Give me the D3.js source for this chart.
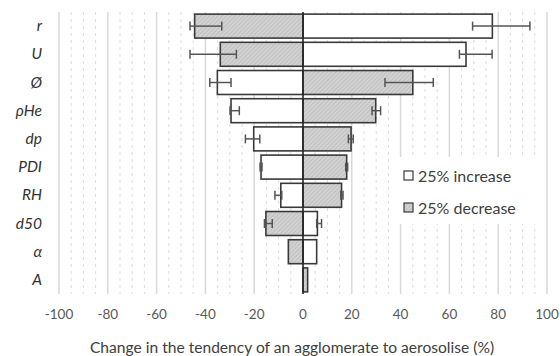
<!DOCTYPE html>
<html>
<head>
<meta charset="utf-8">
<script src="https://cdn.jsdelivr.net/npm/d3@7"></script>
<style>
  body { margin:0; background:#fff; }
  svg { display:block; }
</style>
</head>
<body>
<svg id="chart" width="560" height="356"></svg>
<script>
// chart data
// ----------
var categories = ["r","U","Ø","ρHe","dp","PDI","RH","d50","α","A"];
var increase   = [77.6, 66.8, -35.1, -29.5, -20.2, -17.2, -9.1, 5.9, 5.6, 0];
var increaseLo = [69.5, 64.1, -38.2, -29.9, -23.6, -17.6, -11.5, 5.6, null, null];
var increaseHi = [93.0, 77.5, -29.5, -26.1, -17.7, -16.8, -8.7, 7.6, null, null];
var decrease   = [-44.4, -33.9, 45.0, 29.8, 19.7, 17.9, 15.8, -15.2, -6.0, 1.9];
var decreaseLo = [-46.3, -46.3, 33.6, 28.3, 18.6, 17.5, 15.5, -15.8, null, null];
var decreaseHi = [-33.3, -27.3, 53.4, 31.8, 20.6, 18.3, 16.4, -12.6, null, null];
var xTicks = [-100,-80,-60,-40,-20,0,20,40,60,80,100];
var legendLabels = ["25% increase","25% decrease"];
var axisTitle = "Change in the tendency of an agglomerate to aerosolise (%)";

var szFont = "Lato, 'Open Sans', sans-serif";
var svg = d3.select("#chart");

var x = d3.scaleLinear().domain([-100,100]).range([59,547]);
var y = d3.scaleBand().domain(categories).range([12,294]).paddingInner(0.15).paddingOuter(0.075);

// hatch pattern for the decrease bars
// -----------------------------------
var defs = svg.append("defs");
var pat = defs.append("pattern")
  .attr("id","hatch").attr("patternUnits","userSpaceOnUse")
  .attr("width",3).attr("height",3).attr("patternTransform","rotate(45)");
pat.append("rect").attr("width",3).attr("height",3).attr("fill","#d2d2d2");
pat.append("line").attr("x1",0).attr("y1",0).attr("x2",0).attr("y2",3)
  .attr("stroke","#b0b0b0").attr("stroke-width",1.1);

// gridlines: minor dashed every 5, major solid every 20
// -----------------------------------------------------
var minor = d3.range(-100,101,5).filter(function(v){ return v%20!==0; });
svg.append("g").selectAll("line").data(minor).enter().append("line")
  .attr("x1",function(d){return x(d);}).attr("x2",function(d){return x(d);})
  .attr("y1",12).attr("y2",294)
  .attr("style","stroke:#dcdcdc;stroke-width:1;stroke-dasharray:3,4;");
svg.append("g").selectAll("line").data(xTicks.filter(function(v){return v!==0;})).enter().append("line")
  .attr("x1",function(d){return x(d);}).attr("x2",function(d){return x(d);})
  .attr("y1",12).attr("y2",294)
  .attr("style","stroke:#d9d9d9;stroke-width:1.5;");

// bars
// ----
function drawBars(values, fill){
  svg.append("g").selectAll("rect").data(values).enter()
    .filter(function(d){ return d!==0; })
    .append("rect")
    .attr("x",function(d){ return x(Math.min(0,d)); })
    .attr("y",function(d){ return y(categories[values.indexOf(d)]); })
    .attr("width",function(d){ return Math.abs(x(d)-x(0)); })
    .attr("height",y.bandwidth())
    .attr("style","fill:"+fill+";stroke:#3a3a3a;stroke-width:1.6;");
}
drawBars(increase,"#ffffff");
drawBars(decrease,"url(#hatch)");

// error bars
// ----------
function drawErrors(lo, hi){
  var g = svg.append("g").attr("style","stroke:#555;stroke-width:1.5;fill:none;");
  categories.forEach(function(c,i){
    if (lo[i]===null) return;
    var cy = y(c)+y.bandwidth()/2;
    g.append("line").attr("x1",x(lo[i])).attr("x2",x(hi[i])).attr("y1",cy).attr("y2",cy);
    g.append("line").attr("x1",x(lo[i])).attr("x2",x(lo[i])).attr("y1",cy-4.5).attr("y2",cy+4.5);
    g.append("line").attr("x1",x(hi[i])).attr("x2",x(hi[i])).attr("y1",cy-4.5).attr("y2",cy+4.5);
  });
}
drawErrors(increaseLo, increaseHi);
drawErrors(decreaseLo, decreaseHi);

// zero line
svg.append("line").attr("x1",x(0)).attr("x2",x(0)).attr("y1",12).attr("y2",294)
  .attr("style","stroke:#262626;stroke-width:1.6;");

// category labels
// ---------------
svg.append("g").selectAll("text").data(categories).enter().append("text")
  .attr("x",42).attr("y",function(d){ return y(d)+y.bandwidth()/2+5; })
  .attr("style","font-family:"+szFont+";font-size:15.5px;font-style:italic;text-anchor:end;fill:#333;")
  .text(function(d){ return d; });

// x axis tick labels
// ------------------
svg.append("g").selectAll("text").data(xTicks).enter().append("text")
  .attr("x",function(d){ return x(d); }).attr("y",319)
  .attr("style","font-family:"+szFont+";font-size:13.5px;text-anchor:middle;fill:#595959;")
  .text(function(d){ return d; });

svg.append("text").attr("x",292).attr("y",353)
  .attr("style","font-family:"+szFont+";font-size:15.6px;text-anchor:middle;fill:#404040;")
  .text(axisTitle);

// legend
// ------
svg.append("rect").attr("x",395).attr("y",157).attr("width",147).attr("height",67).attr("fill","#fff");
var legFills = ["#ffffff","url(#hatch)"];
legendLabels.forEach(function(l,i){
  var ly = 176 + i*32;
  svg.append("rect").attr("x",404).attr("y",ly-5).attr("width",9).attr("height",9)
    .attr("style","fill:"+legFills[i]+";stroke:#3a3a3a;stroke-width:1.2;");
  svg.append("text").attr("x",418).attr("y",ly+5.5)
    .attr("style","font-family:"+szFont+";font-size:16px;fill:#404040;")
    .text(l);
});
</script>
</body>
</html>
